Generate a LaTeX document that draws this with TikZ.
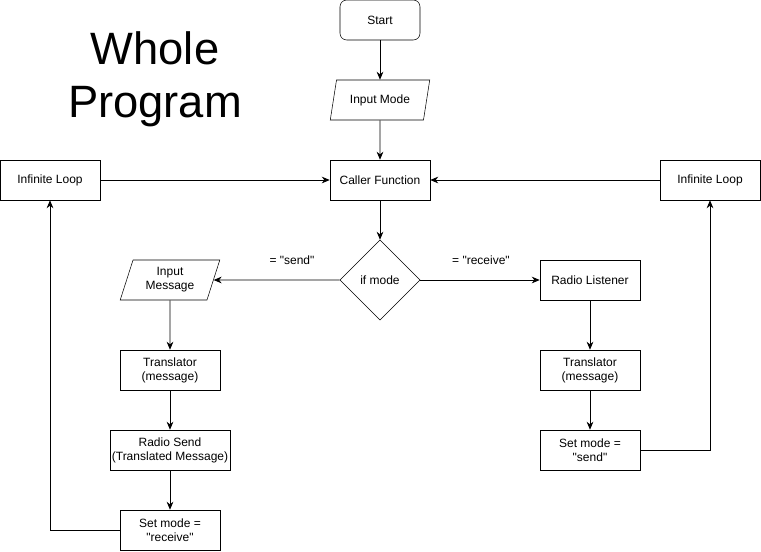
\documentclass[tikz,border=0pt]{standalone}
\usepackage{fontspec}
\setmainfont{Liberation Sans}
\usetikzlibrary{shapes.geometric, arrows.meta}

\begin{document}
\begin{tikzpicture}[x=0.75pt, y=-0.75pt, font=\fontsize{9}{10.5}\selectfont,
    box/.style={draw, minimum width=75pt, minimum height=30pt, align=center, inner sep=1pt},
    io/.style={draw, trapezium, trapezium left angle=72, trapezium right angle=108,
      trapezium stretches=true, minimum width=75pt, minimum height=30pt, align=center, inner sep=1pt},
    cond/.style={draw, diamond, minimum width=60pt, minimum height=60pt, inner sep=0pt},
    arr/.style={-{Stealth[length=6pt, width=5pt]}, line width=0.6pt}]
  \useasboundingbox (0,0) rectangle (761,551);
  \node[align=center, font=\fontsize{34}{40}\selectfont] (title) at (155,79) {Whole\\Program};
  \node[box, rounded corners=5pt, minimum width=60pt] (start) at (380,20) {Start};
  \node[io] (mode) at (380,100) {Input Mode};
  \node[box] (caller) at (380,180) {Caller Function};
  \node[box] (loopl) at (50,180) {Infinite Loop};
  \node[box] (loopr) at (710,180) {Infinite Loop};
  \node[cond] (if) at (380,280) {if mode};
  \node[io] (msg) at (170,280) {Input\\Message};
  \node[box] (listen) at (590,280) {Radio Listener};
  \node[box] (transl) at (170,370) {Translator\\(message)};
  \node[box] (transr) at (590,370) {Translator\\(message)};
  \node[box, minimum width=90pt] (send) at (170,450) {Radio Send\\(Translated Message)};
  \node[box] (setl) at (170,530) {Set mode =\\\textquotedbl receive\textquotedbl};
  \node[box] (setr) at (590,450) {Set mode =\\\textquotedbl send\textquotedbl};
  \node (lsend) at (292,260) {= \textquotedbl send\textquotedbl};
  \node (lrecv) at (481,260) {= \textquotedbl receive\textquotedbl};
  \draw[arr] (start) -- (mode);
  \draw[arr] (mode) -- (caller);
  \draw[arr] (caller) -- (if);
  \draw[arr] (loopl) -- (caller);
  \draw[arr] (loopr) -- (caller);
  \draw[arr] (if) -- (msg.east);
  \draw[arr] (if) -- (listen);
  \draw[arr] (msg) -- (transl);
  \draw[arr] (transl) -- (send);
  \draw[arr] (send) -- (setl);
  \draw[arr] (listen) -- (transr);
  \draw[arr] (transr) -- (setr);
  \draw[arr] (setl.west) -| (loopl.south);
  \draw[arr] (setr.east) -| (loopr.south);
\end{tikzpicture}
\end{document}
